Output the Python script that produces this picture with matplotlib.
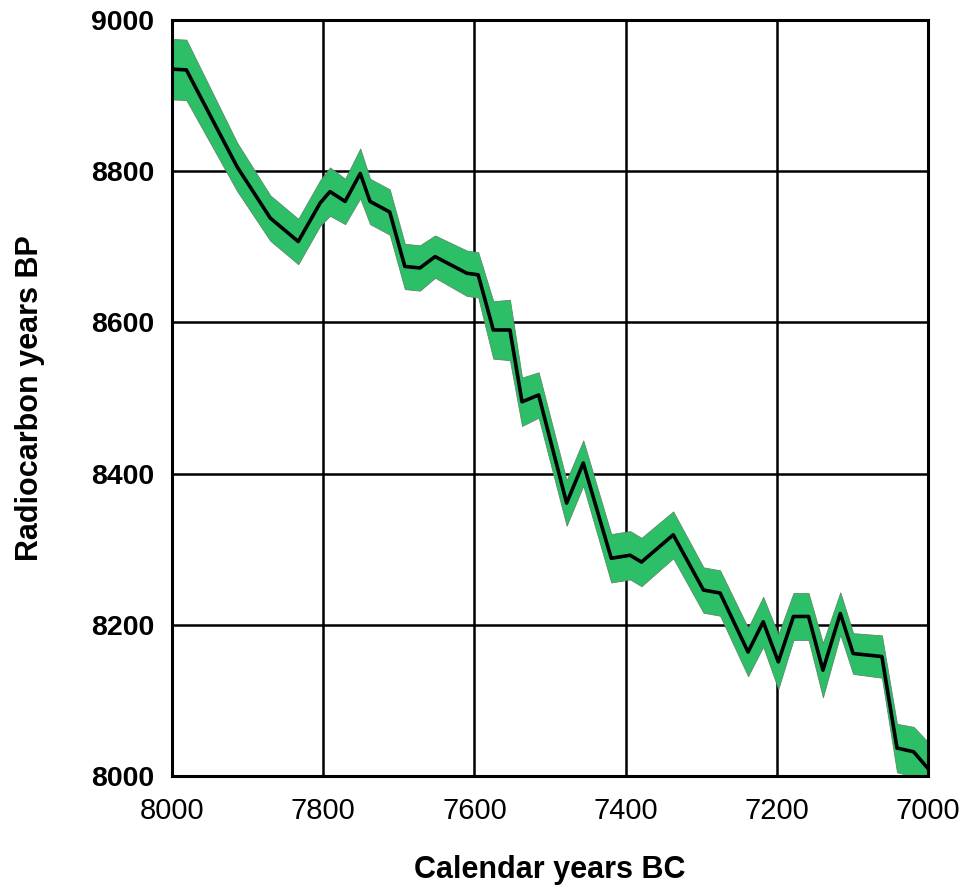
import matplotlib
matplotlib.use("Agg")
import matplotlib.pyplot as plt
import numpy as np

plt.rcParams['font.family'] = ['Liberation Sans', 'DejaVu Sans']

# Calendar years BC
cal_bc = [8000, 7981, 7914, 7870, 7833, 7804, 7791, 7771, 7751, 7738,
          7712, 7692, 7672, 7652, 7610, 7595, 7575, 7553, 7537, 7515,
          7478, 7456, 7419, 7394, 7379, 7337, 7297, 7275, 7238, 7218,
          7198, 7178, 7158, 7139, 7116, 7099, 7061, 7041, 7019, 7000]
# Radiocarbon years BP (central curve)
c14_bp = [8935, 8934, 8806, 8738, 8707, 8758, 8773, 8760, 8797, 8760,
          8746, 8674, 8672, 8687, 8665, 8663, 8590, 8590, 8495, 8504,
          8361, 8414, 8288, 8292, 8283, 8319, 8246, 8242, 8164, 8204,
          8151, 8211, 8211, 8140, 8215, 8162, 8158, 8037, 8032, 8010]
# 1-sigma uncertainty
c14_err = [40, 40, 32, 30, 30, 30, 32, 30, 33, 30,
           30, 30, 30, 28, 30, 30, 38, 40, 32, 30,
           30, 30, 32, 32, 32, 31, 30, 30, 32, 33,
           36, 31, 31, 36, 28, 27, 28, 32, 33, 35]

x_ticks = [8000, 7800, 7600, 7400, 7200, 7000]
y_ticks = [8000, 8200, 8400, 8600, 8800, 9000]

x = np.array(cal_bc)
y = np.array(c14_bp)
e = np.array(c14_err)

fig = plt.figure(figsize=(9.69, 8.91), dpi=100)
ax = fig.add_axes([172/969, 1-776/891, (928-172)/969, (776-20)/891])

ax.fill_between(x, y - e, y + e, facecolor='#2dbf67', edgecolor='#5a8a6a',
                linewidth=0.6, zorder=2)
ax.plot(x, y, color='black', linewidth=2.6, zorder=3)

ax.set_xlim(8000, 7000)
ax.set_ylim(8000, 9000)
ax.set_xticks(x_ticks)
ax.set_yticks(y_ticks)
ax.set_xticklabels([str(v) for v in x_ticks], fontsize=21)
ax.set_yticklabels([str(v) for v in y_ticks], fontsize=20.5, fontweight='bold')
ax.tick_params(axis='x', length=0, pad=15)
ax.tick_params(axis='y', length=0, pad=13)
ax.grid(True, color='black', linewidth=1.8, zorder=1)
ax.set_axisbelow(True)
for s in ax.spines.values():
    s.set_linewidth(2.2)
    s.set_color('black')
    s.set_zorder(4)

ax.set_xlabel('Calendar years BC', fontsize=22, fontweight='bold', va='center')
ax.set_ylabel('Radiocarbon years BP', fontsize=22, fontweight='bold', va='center')
ax.xaxis.set_label_coords(0.5, (776-870)/756)
ax.yaxis.set_label_coords((30-172)/756, 0.5)

fig.savefig('out.png', dpi=100)
